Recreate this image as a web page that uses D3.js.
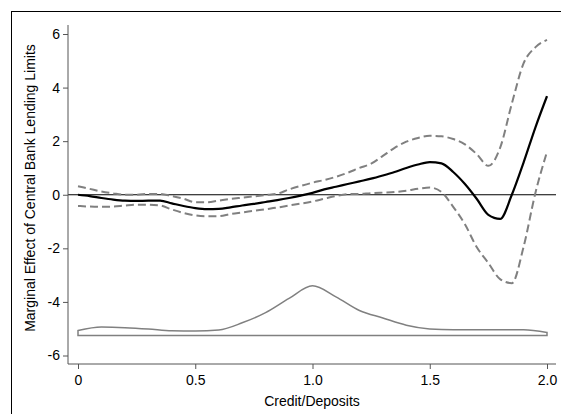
<!DOCTYPE html>
<html>
<head>
<meta charset="utf-8">
<title></title>
<script src="https://cdn.jsdelivr.net/npm/d3@7"></script>
<style>
  body { margin: 0; background: #fff; }
  text { font-family: "Liberation Sans", Arial, sans-serif; }
</style>
</head>
<body>
<svg id="svg"></svg>
<script>
var width = 561, height = 414;

// credit/deposits grid for the marginal effect
var ratio = [0, 0.05, 0.1, 0.15, 0.2, 0.25, 0.3, 0.35, 0.4, 0.45, 0.5, 0.55, 0.6, 0.65, 0.7, 0.75, 0.8, 0.85, 0.9, 0.95,
             1, 1.05, 1.1, 1.15, 1.2, 1.25, 1.3, 1.35, 1.4, 1.45, 1.5, 1.55, 1.6, 1.65, 1.7, 1.75, 1.8, 1.85, 1.9, 1.95, 2];
var effect = [0, -0.05, -0.12, -0.18, -0.22, -0.23, -0.22, -0.22, -0.32, -0.42, -0.5, -0.54, -0.53, -0.47, -0.4, -0.34, -0.27, -0.2, -0.12, -0.03,
              0.07, 0.2, 0.3, 0.4, 0.5, 0.6, 0.72, 0.85, 1, 1.13, 1.22, 1.17, 0.85, 0.4, -0.15, -0.75, -0.9, 0, 1.2, 2.5, 3.68];
var upper = [0.32, 0.22, 0.12, 0.05, 0, 0, 0.03, 0.03, -0.05, -0.15, -0.28, -0.28, -0.22, -0.16, -0.11, -0.06, -0.01, 0.04, 0.2, 0.33,
             0.45, 0.55, 0.67, 0.82, 1, 1.16, 1.45, 1.75, 1.98, 2.12, 2.2, 2.18, 2.08, 1.88, 1.52, 1.08, 1.75, 3.4, 4.9, 5.5, 5.78];
var lower = [-0.42, -0.44, -0.45, -0.44, -0.4, -0.37, -0.37, -0.4, -0.55, -0.68, -0.77, -0.8, -0.8, -0.72, -0.66, -0.6, -0.54, -0.48, -0.4, -0.33,
             -0.25, -0.15, -0.05, 0.02, 0.03, 0.06, 0.08, 0.1, 0.15, 0.22, 0.27, 0.1, -0.45, -1.1, -1.95, -2.55, -3.15, -3.3, -1.95, 0.05, 1.6];

// distribution of credit/deposits drawn at the bottom
var densX = [0, 0.1, 0.2, 0.3, 0.4, 0.5, 0.6, 0.7, 0.8, 0.9, 1, 1.1, 1.2, 1.3, 1.4, 1.5, 1.6, 1.7, 1.8, 1.9, 2];
var densY = [-5.07, -4.94, -4.96, -5.01, -5.08, -5.09, -5.05, -4.78, -4.4, -3.87, -3.4, -3.81, -4.32, -4.6, -4.87, -5.01, -5.04, -5.04, -5.04, -5.04, -5.14];
var densBase = -5.25;

var xTicks = [0, 0.5, 1, 1.5, 2];
var xTickLabels = ["0", "0.5", "1.0", "1.5", "2.0"];
var yTicks = [-6, -4, -2, 0, 2, 4, 6];

var svg = d3.select('#svg').attr('width', width).attr('height', height);

var x = d3.scaleLinear().domain([0, 2]).range([78, 547]);
var y = d3.scaleLinear().domain([-6, 6]).range([355.5, 34]);
var plotLeft = 68, plotRight = 556, plotTop = 25, plotBottom = 364;

// outer frame
svg.append('rect').attr('x', 11.5).attr('y', 11.5).attr('width', 600).attr('height', 500)
   .attr('fill', 'none').attr('stroke', '#000').attr('stroke-width', 1);

// density polygon
var dens = densX.map(function (d, i) { return [d, densY[i]]; });
var area = d3.area().x(function (d) { return x(d[0]); })
   .y0(y(densBase)).y1(function (d) { return y(d[1]); }).curve(d3.curveMonotoneX);
svg.append('path').datum(dens).attr('d', area)
   .attr('fill', '#fff').attr('stroke', '#808080').attr('stroke-width', 1.5);

// zero line
svg.append('line').attr('x1', plotLeft).attr('x2', plotRight).attr('y1', y(0)).attr('y2', y(0))
   .attr('stroke', '#000').attr('stroke-width', 1.2);

var line = d3.line().x(function (d) { return x(d[0]); }).y(function (d) { return y(d[1]); })
   .curve(d3.curveMonotoneX);

[upper, lower].forEach(function (s) {
  svg.append('path').datum(ratio.map(function (r, i) { return [r, s[i]]; }))
     .attr('d', line).attr('fill', 'none').attr('stroke', '#808080')
     .attr('stroke-width', 2).attr('stroke-dasharray', '8,4');
});
svg.append('path').datum(ratio.map(function (r, i) { return [r, effect[i]]; }))
   .attr('d', line).attr('fill', 'none').attr('stroke', '#000').attr('stroke-width', 2.2);

// axes
var yAxis = d3.axisLeft(y).tickValues(yTicks).tickFormat(function (d) { return String(d); })
   .tickSize(5).tickPadding(3);
var gy = svg.append('g').attr('transform', 'translate(' + plotLeft + ',0)').call(yAxis);
gy.select('.domain').remove();
gy.append('line').attr('x1', 0).attr('x2', 0).attr('y1', plotTop).attr('y2', plotBottom).attr('stroke', '#555');

var xAxis = d3.axisBottom(x).tickValues(xTicks).tickFormat(function (d, i) { return xTickLabels[i]; })
   .tickSize(5).tickPadding(6);
var gx = svg.append('g').attr('transform', 'translate(0,' + plotBottom + ')').call(xAxis);
gx.select('.domain').remove();
gx.append('line').attr('x1', plotLeft).attr('x2', plotRight).attr('y1', 0).attr('y2', 0).attr('stroke', '#555');

svg.selectAll('.tick line').attr('stroke', '#555');
svg.selectAll('.tick text').attr('fill', '#000').style('font-size', '14px')
   .style('font-family', '"Liberation Sans", Arial, sans-serif');

svg.append('text').attr('x', 312).attr('y', 406).attr('text-anchor', 'middle')
   .style('font-size', '14px').text('Credit/Deposits');
svg.append('text').attr('transform', 'translate(35,' + 188 + ') rotate(-90)').attr('text-anchor', 'middle')
   .style('font-size', '14px').text('Marginal Effect of Central Bank Lending Limits');
</script>
</body>
</html>
